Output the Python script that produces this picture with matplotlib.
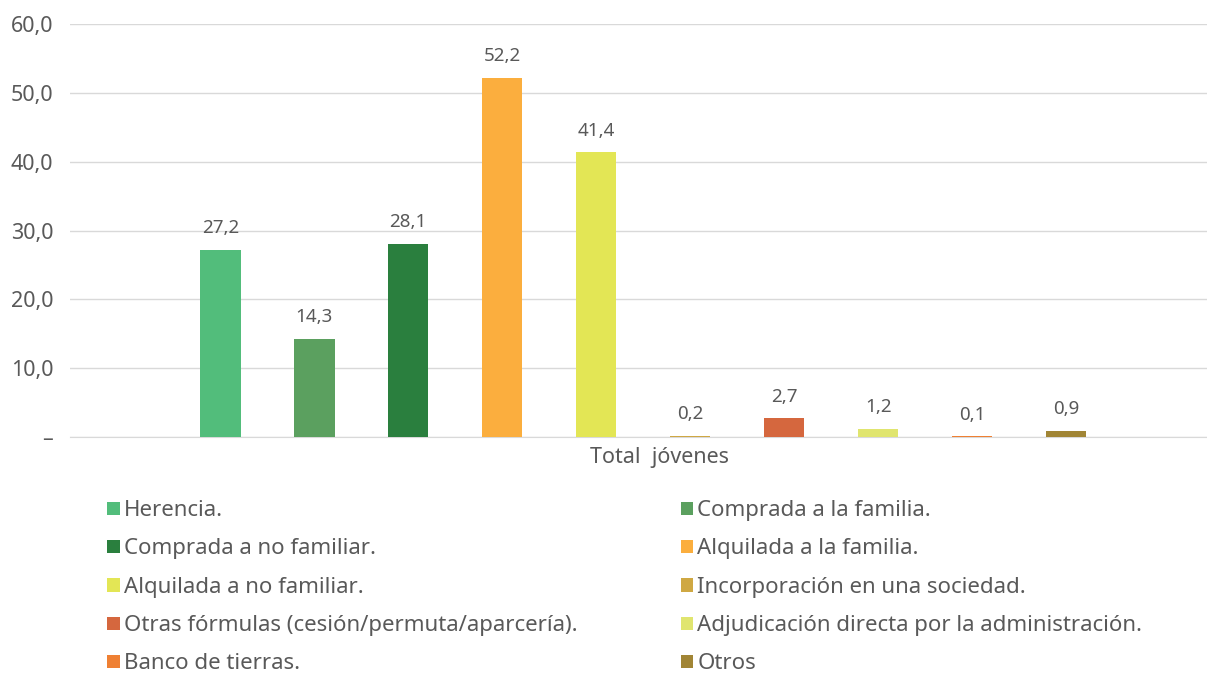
import numpy as np
import matplotlib.pyplot as plt

plt.rcParams['font.family'] = ['Noto Sans', 'DejaVu Sans']

categoria = 'Total  jóvenes'
series = ['Herencia.', 'Comprada a la familia.', 'Comprada a no familiar.',
          'Alquilada a la familia.', 'Alquilada a no familiar.',
          'Incorporación en una sociedad.',
          'Otras fórmulas (cesión/permuta/aparcería).',
          'Adjudicación directa por la administración.',
          'Banco de tierras.', 'Otros']
valores = [27.2, 14.3, 28.1, 52.2, 41.4, 0.2, 2.7, 1.2, 0.1, 0.9]
colores = ['#52BD7B', '#5BA05F', '#2A7F3E', '#FBAE3E', '#E3E655',
           '#CFA843', '#D5673E', '#E0E56F', '#EF8033', '#A18535']

gris = '#595959'
fig = plt.figure(figsize=(12.07, 6.74), dpi=100)
ax = fig.add_axes([0.058, 0.3516, 0.942, 0.6128])

n = len(valores)
paso = 1.0
ancho = 0.43
pos = (np.arange(n) - (n - 1) / 2) * paso
handles = []
for i in range(n):
    b = ax.bar(pos[i], valores[i], width=ancho, color=colores[i], label=series[i], zorder=3)
    ax.bar_label(b, labels=[f'{valores[i]:.1f}'.replace('.', ',')], padding=9,
                 fontsize=13.5, color=gris)
    handles.append(b)

ax.set_xlim(-6.1, 6.0)
ax.set_ylim(0, 60)
ax.set_yticks(np.arange(0, 61, 10))
ax.set_yticklabels(['–'] + [f'{v:.1f}'.replace('.', ',') for v in range(10, 61, 10)],
                   fontsize=15.5, color=gris)
ax.set_xticks([0.17])
ax.set_xticklabels([categoria], fontsize=15.5, color=gris)
ax.tick_params(axis='both', length=0)
ax.tick_params(axis='x', pad=7)
ax.tick_params(axis='y', pad=12)
ax.grid(axis='y', color='#D9D9D9', linewidth=1, zorder=0)
for s in ['top', 'right', 'left']:
    ax.spines[s].set_visible(False)
ax.spines['bottom'].set_color('#D9D9D9')

kw = dict(frameon=False, fontsize=16, handlelength=0.55, handleheight=0.55,
          handletextpad=0.2, labelspacing=0.78, labelcolor=gris,
          loc='upper left', borderaxespad=0, borderpad=0)
fig.legend(handles[0::2], series[0::2], bbox_to_anchor=(0.089, 0.258), **kw)
fig.legend(handles[1::2], series[1::2], bbox_to_anchor=(0.564, 0.258), **kw)

fig.savefig('out.png', dpi=100)
